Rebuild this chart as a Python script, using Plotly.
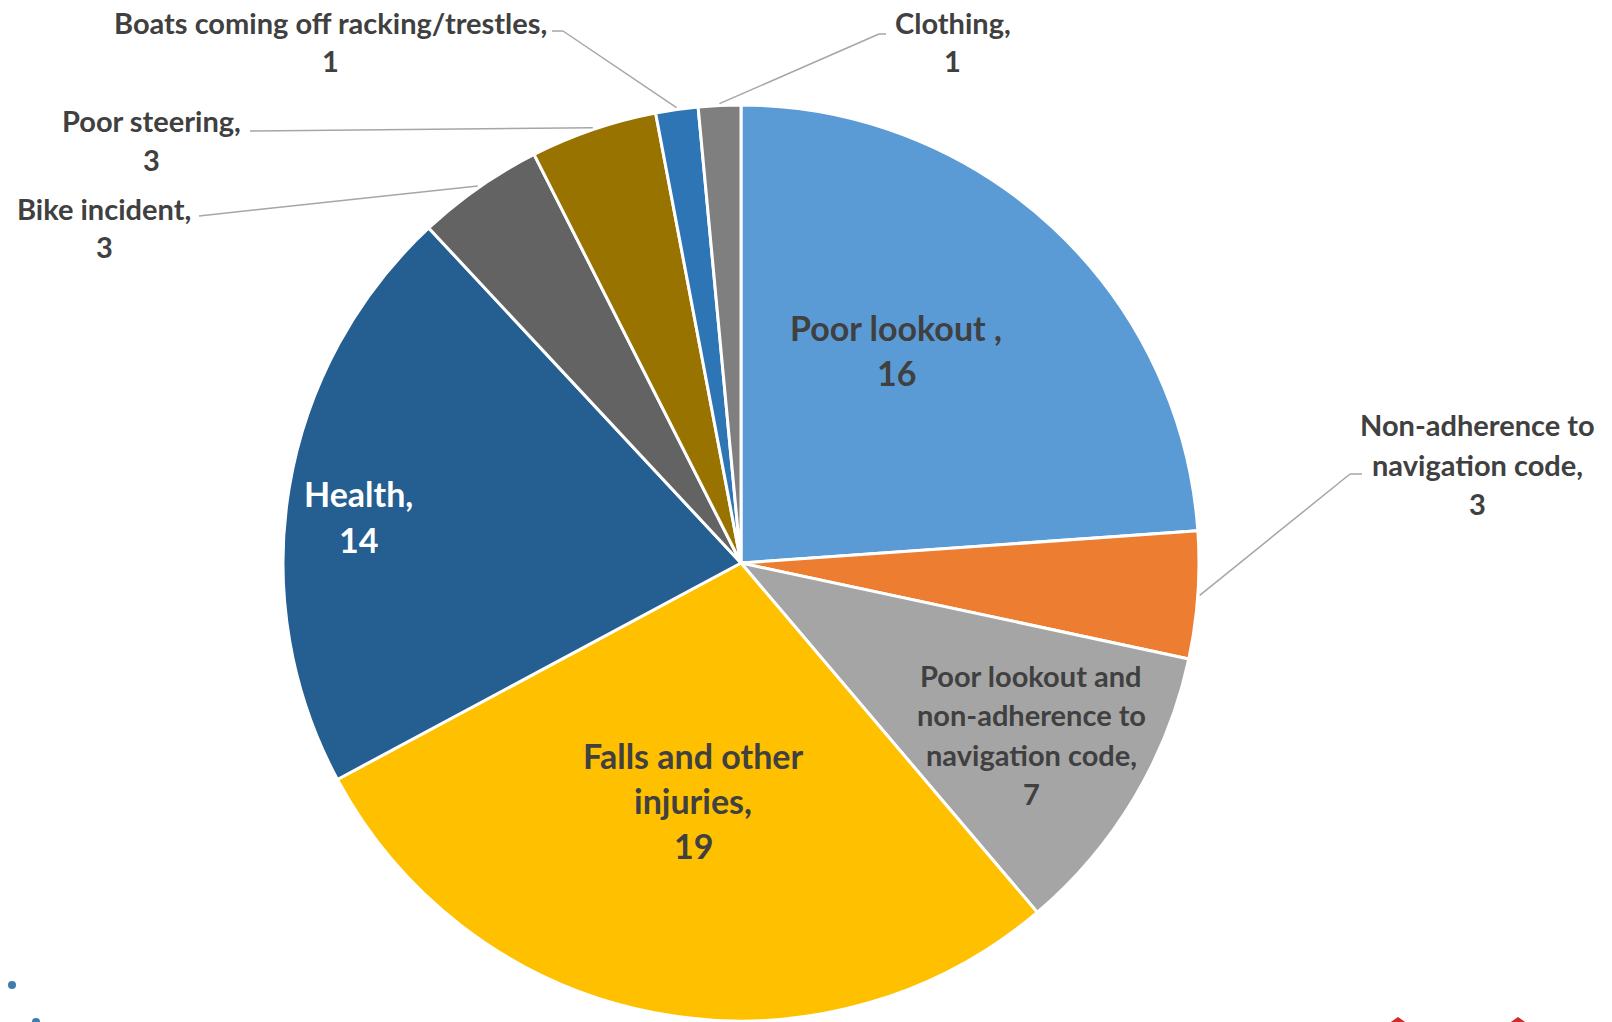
import math
import plotly.graph_objects as go

# ---------------- data ----------------
categories = [
    "Poor lookout",
    "Non-adherence to navigation code",
    "Poor lookout and non-adherence to navigation code",
    "Falls and other injuries",
    "Health",
    "Bike incident",
    "Poor steering",
    "Boats coming off racking/trestles",
    "Clothing",
]
values = [16, 3, 7, 19, 14, 3, 3, 1, 1]
colors = ["#5B9BD5", "#ED7D31", "#A5A5A5", "#FFC000", "#255E91",
          "#636363", "#997300", "#2E75B6", "#7F7F7F"]

# wrapped name lines for each label (value line is appended from `values`)
name_lines = [
    ["Poor lookout ,"],
    ["Non-adherence to", "navigation code,"],
    ["Poor lookout and", "non-adherence to", "navigation code,"],
    ["Falls and other", "injuries,"],
    ["Health,"],
    ["Bike incident,"],
    ["Poor steering,"],
    ["Boats coming off racking/trestles,"],
    ["Clothing,"],
]

# ---------------- layout constants (pixels) ----------------
W, H = 1612, 1022
CX, CY, R = 741, 563, 458
FONT = "Lato"
TXT = "#404040"
BIG, SMALL = 34, 29

# label block: (center x, first-line y, line spacing, font size, colour)
label_pos = [
    (896, 327, 45, BIG, TXT),
    (1477, 425, 39, SMALL, TXT),
    (1031, 675, 39.6, SMALL, TXT),
    (693, 755, 45, BIG, TXT),
    (358, 493, 46, BIG, "#FFFFFF"),
    (104, 208, 38, SMALL, TXT),
    (151, 121, 38, SMALL, TXT),
    (330, 22, 38, SMALL, TXT),
    (953, 22, 39, SMALL, TXT),
]
# leader-line elbow points (None -> inside label, no leader)
leader = [
    None,
    [(1362, 474), (1350, 474)],
    None,
    None,
    None,
    [(199, 216)],
    [(250, 131)],
    [(552, 31), (563, 31)],
    [(886, 34), (879, 34)],
]


def px(x, y):
    return x / W, 1 - y / H


total = sum(values)
cum = 0
mid_angles = []
for v in values:
    mid_angles.append((cum + v / 2) / total * 2 * math.pi)
    cum += v

fig = go.Figure()
x0, y0 = px(CX - R, CY + R)
x1, y1 = px(CX + R, CY - R)
fig.add_trace(go.Pie(
    labels=categories,
    values=values,
    sort=False,
    direction="clockwise",
    rotation=0,
    marker=dict(colors=colors, line=dict(color="#FFFFFF", width=3)),
    textinfo="none",
    hoverinfo="label+value",
    showlegend=False,
    domain=dict(x=[x0, x1], y=[y0, y1]),
))

annotations = []
shapes = []
for i, lines in enumerate(name_lines):
    cx, fy, sp, fs, col = label_pos[i]
    all_lines = lines + [str(values[i])]
    for k, t in enumerate(all_lines):
        ax, ay = px(cx, fy + k * sp)
        annotations.append(dict(
            x=ax, y=ay, xref="paper", yref="paper", text=t, showarrow=False,
            xanchor="center", yanchor="middle",
            font=dict(family=FONT, size=fs, color=col, weight="bold"),
        ))
    if leader[i] is not None:
        a = mid_angles[i]
        ex = CX + R * 1.004 * math.sin(a)
        ey = CY - R * 1.004 * math.cos(a)
        pts = leader[i] + [(ex, ey)]
        for (xa, ya), (xb, yb) in zip(pts[:-1], pts[1:]):
            p0 = px(xa, ya)
            p1 = px(xb, yb)
            shapes.append(dict(type="line", xref="paper", yref="paper",
                               x0=p0[0], y0=p0[1], x1=p1[0], y1=p1[1],
                               line=dict(color="#A6A6A6", width=1.5)))

# small cropped decorations at the bottom edge
bx, by = px(12, 985)
shapes.append(dict(type="circle", xref="paper", yref="paper",
                   x0=bx - 4 / W, x1=bx + 4 / W, y0=by - 4 / H, y1=by + 4 / H,
                   fillcolor="#3F7CAC", line=dict(width=0)))
bx, by = px(36, 1022)
shapes.append(dict(type="circle", xref="paper", yref="paper",
                   x0=bx - 4 / W, x1=bx + 4 / W, y0=by - 4 / H, y1=by + 4 / H,
                   fillcolor="#3F7CAC", line=dict(width=0)))
for rx in (1398, 1518):
    pa = px(rx - 10, 1024)
    pb = px(rx, 1017)
    pc = px(rx + 10, 1024)
    shapes.append(dict(type="path", xref="paper", yref="paper",
                       path=f"M {pa[0]},{pa[1]} L {pb[0]},{pb[1]} L {pc[0]},{pc[1]} Z",
                       fillcolor="#D42A2A", line=dict(width=0)))

fig.update_layout(
    width=W, height=H,
    margin=dict(l=0, r=0, t=0, b=0),
    paper_bgcolor="#FFFFFF",
    plot_bgcolor="#FFFFFF",
    annotations=annotations,
    shapes=shapes,
    font=dict(family=FONT, color=TXT),
)

fig.write_html("out.html", config={"displayModeBar": False},
               post_script="document.body.style.margin='0';document.body.style.overflow='hidden';")
